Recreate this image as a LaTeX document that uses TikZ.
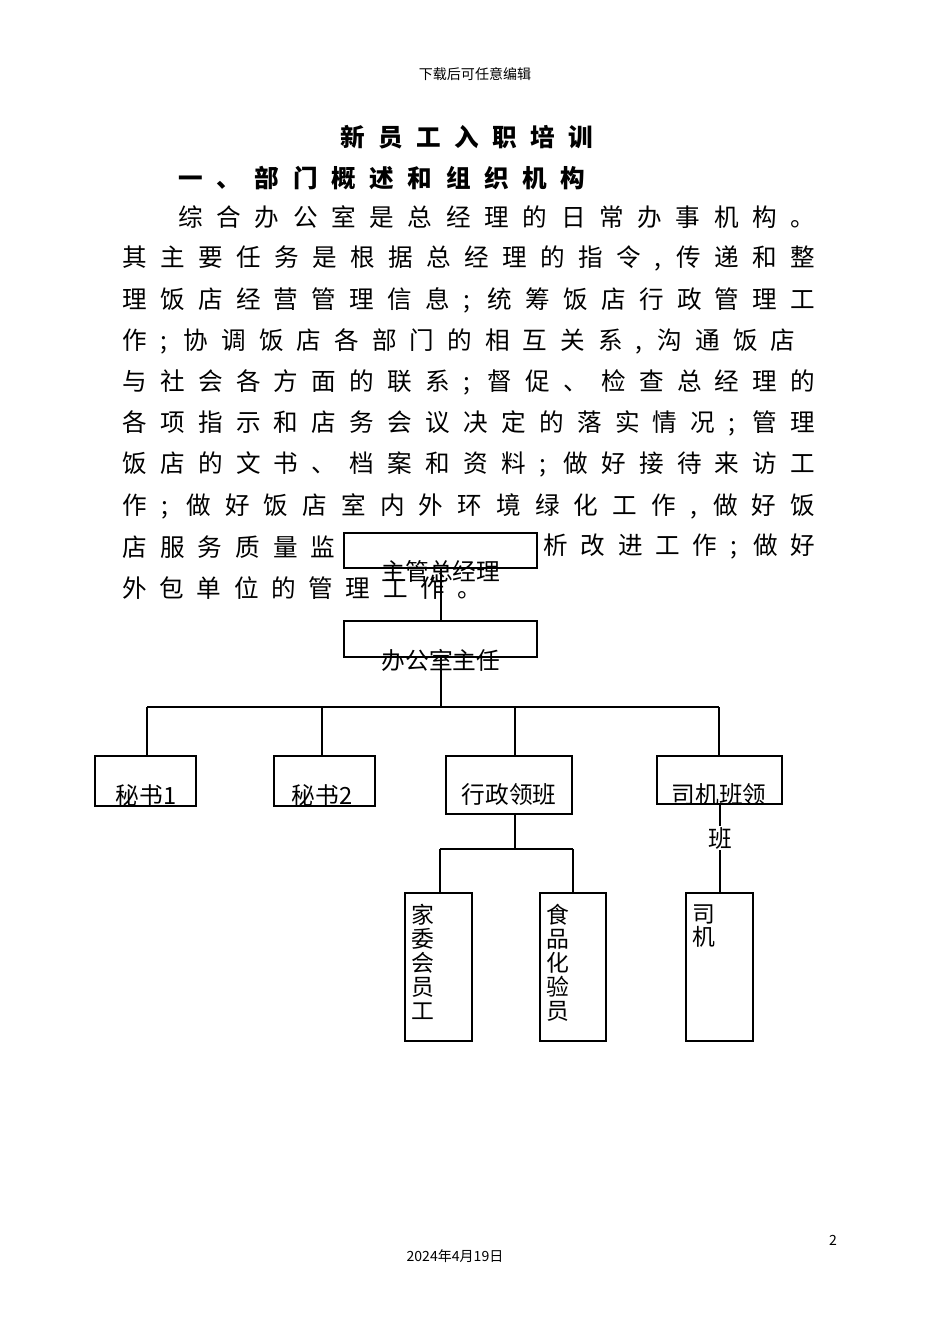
\documentclass[tikz,border=0pt]{standalone}
\usepackage{fontspec}
\setmainfont{Noto Sans CJK SC}
\usetikzlibrary{positioning}
\tikzset{
    post/.style={draw, line width=0.6pt, inner sep=0pt},
    vtext/.style={anchor=north west, align=left, font=\fontsize{13}{13.6}\selectfont, inner sep=0pt},
    htext/.style={font=\fontsize{13.5}{16}\selectfont},
    wire/.style={line width=0.6pt}
}
\newcommand{\bodyline}[4]{
	\node[anchor=west, inner sep=0pt, font=\fontsize{14}{16}\selectfont] at (#1,#2) {\makebox[\dimexpr 0.02cm*#3\relax][s]{#4}};
}
\begin{document}
\begin{tikzpicture}[x=0.02cm, y=-0.02cm]
		\useasboundingbox (0,0) rectangle (950,1344);

		% Page text
		\node[font=\fontsize{8}{10}\selectfont] (head) at (475,74) {下载后可任意编辑};
		\node[anchor=west, inner sep=0pt, font=\bfseries\fontsize{14}{16}\selectfont] at (340,137) {\makebox[\dimexpr 0.02cm*253\relax][s]{新 员 工 入 职 培 训}};
		\node[anchor=west, inner sep=0pt, font=\bfseries\fontsize{14}{16}\selectfont] at (178,178) {\makebox[\dimexpr 0.02cm*407\relax][s]{一 、 部 门 概 述 和 组 织 机 构}};
		\bodyline{178}{217}{637}{综 合 办 公 室 是 总 经 理 的 日 常 办 事 机 构 。}
		\bodyline{122}{258}{693}{其 主 要 任 务 是 根 据 总 经 理 的 指 令 , 传 递 和 整}
		\bodyline{122}{300}{693}{理 饭 店 经 营 管 理 信 息 ; 统 筹 饭 店 行 政 管 理 工}
		\bodyline{122}{341}{673}{作 ; 协 调 饭 店 各 部 门 的 相 互 关 系 , 沟 通 饭 店}
		\bodyline{122}{382}{693}{与 社 会 各 方 面 的 联 系 ; 督 促 、 检 查 总 经 理 的}
		\bodyline{122}{423}{693}{各 项 指 示 和 店 务 会 议 决 定 的 落 实 情 况 ; 管 理}
		\bodyline{122}{464}{693}{饭 店 的 文 书 、 档 案 和 资 料 ; 做 好 接 待 来 访 工}
		\bodyline{122}{506}{693}{作 ; 做 好 饭 店 室 内 外 环 境 绿 化 工 作 , 做 好 饭}
		\bodyline{122}{547}{213}{店 服 务 质 量 监}
		\bodyline{543}{547}{272}{析 改 进 工 作 ; 做 好}
		\bodyline{122}{588}{360}{外 包 单 位 的 管 理 工 作 。}

		% Chart boxes
		\draw[post, fill=white] (344,533) rectangle (537,568);
		\node[htext] (gm) at (441,571) {主管总经理};
		\draw[post] (344,621) rectangle (537,657);
		\node[htext] (dir) at (441,660) {办公室主任};
		\draw[post] (95,756) rectangle (196,806);
		\node[htext] (sec1) at (146,795) {秘书1};
		\draw[post] (274,756) rectangle (375,806);
		\node[htext] (sec2) at (322,795) {秘书2};
		\draw[post] (446,756) rectangle (572,814);
		\node[htext] (adm) at (509,795) {行政领班};
		\draw[post] (657,756) rectangle (782,804);
		\node[htext] (drv) at (719,795) {司机班领};
		\node[htext] (drv2) at (720,838) {班};
		\draw[post] (405,893) rectangle (472,1041);
		\node[vtext] (hk) at (411,904) {家\\委\\会\\员\\工};
		\draw[post] (540,893) rectangle (606,1041);
		\node[vtext] (food) at (546,904) {食\\品\\化\\验\\员};
		\draw[post] (686,893) rectangle (753,1041);
		\node[vtext] (car) at (692,904) {司\\机};

		% Connectors
		\coordinate (busL) at (147,707);
		\coordinate (busR) at (719,707);
		\draw[wire] (441,568) -- (441,621);
		\draw[wire] (441,657) -- (441,707);
		\draw[wire] (busL) -- (busR);
		\foreach \x in {147,322,515,719}
			\draw[wire] (\x,707) -- (\x,756);
		\draw[wire] (515,814) -- (515,849);
		\draw[wire] (440,849) -- (573,849);
		\foreach \x in {440,573}
			\draw[wire] (\x,849) -- (\x,893);
		\draw[wire] (720,804) -- (720,826) (720,850) -- (720,893);

		% Footer
		\node[font=\fontsize{8}{10}\selectfont] (pg) at (833,1240) {2};
		\node[font=\fontsize{8}{10}\selectfont] (date) at (455,1256) {2024年4月19日};
	\end{tikzpicture}
\end{document}
